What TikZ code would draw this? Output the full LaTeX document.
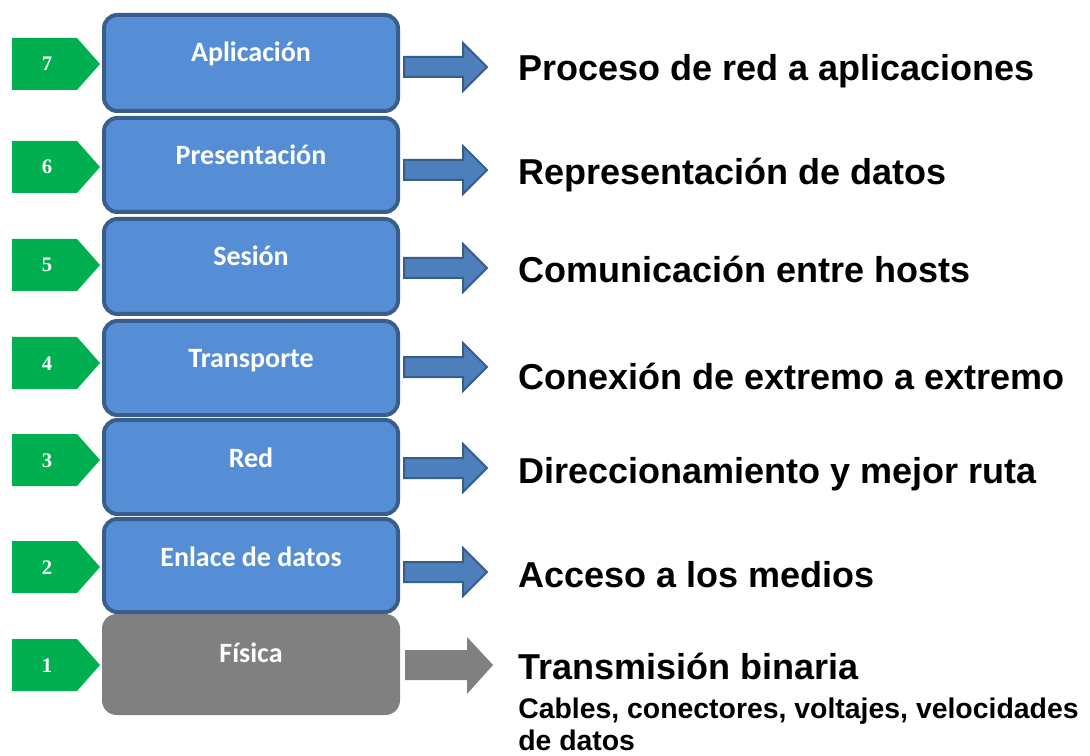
\documentclass[tikz,border=0pt]{standalone}
\usepackage{fontspec}
\setmainfont{Liberation Sans}
\newfontfamily\boxfont{Carlito}
\newfontfamily\numberfont{Liberation Serif}
\definecolor{layerblue}{HTML}{558ED5}
\definecolor{layerborder}{HTML}{3A5E8C}
\definecolor{arrowfill}{HTML}{4C7FBC}
\definecolor{arrowborder}{HTML}{385D8A}
\definecolor{tabgreen}{HTML}{00B050}
\definecolor{physgray}{HTML}{808080}
\begin{document}
\begin{tikzpicture}[x=0.75pt,y=-0.75pt,
  layer/.style={draw=layerborder, line width=3pt, fill=layerblue, rounded corners=10pt},
  physlayer/.style={fill=physgray, rounded corners=11pt},
  boxlabel/.style={text=white, font=\boxfont\bfseries\fontsize{21}{24}\selectfont, inner sep=0pt, anchor=base},
  tab/.style={fill=tabgreen},
  num/.style={text=white, font=\numberfont\bfseries\fontsize{15.5}{17}\selectfont, inner sep=0pt, anchor=base},
  blockarrow/.style={fill=arrowfill, draw=arrowborder, line width=1.5pt, line join=miter},
  grayarrow/.style={fill=physgray},
  desc/.style={text=black, font=\bfseries\fontsize{27}{30}\selectfont, inner sep=0pt, anchor=base west},
  subdesc/.style={text=black, font=\bfseries\fontsize{21.3}{24}\selectfont, inner sep=0pt, anchor=base west}]
\useasboundingbox (0,0) rectangle (1090,756);
\fill[white] (0,0) rectangle (1090,756);
% physical layer
\path[physlayer] (102,614) rectangle (400,715);
\foreach \n/\t/\b/\lab/\py/\ay/\ty/\txt in {
  7/13/113/Aplicación/64/67/68/Proceso de red a aplicaciones,
  6/116/214/Presentación/167/170/172/Representación de datos,
  5/217/316/Sesión/265/268/269/Comunicación entre hosts,
  4/319/417/Transporte/363/367/376/Conexión de extremo a extremo,
  3/418/516/Red/460/468/470/Direccionamiento y mejor ruta,
  2/517/614/Enlace de datos/567/572/574/Acceso a los medios}{
  \path[layer] (104,{\t+2}) rectangle (398,{\b-2});
  \node[boxlabel] (lab\n) at (251,{\t+49}) {\lab};
  \fill[tab] (12,{\py-26}) -- (77,{\py-26}) -- (100,\py) -- (77,{\py+26}) -- (12,{\py+26}) -- cycle;
  \node[num] (num\n) at (47,{\py+7}) {\n};
  \draw[blockarrow] (404,{\ay-10}) -- (463,{\ay-10}) -- (463,{\ay-24}) -- (487,\ay) -- (463,{\ay+24}) -- (463,{\ay+10}) -- (404,{\ay+10}) -- cycle;
  \node[desc] (desc\n) at (518,{\ty+13}) {\txt};
}
% layer 1
\node[boxlabel] (lab1) at (251,662) {Física};
\fill[tab] (12,639) -- (77,639) -- (100,665) -- (77,691) -- (12,691) -- cycle;
\node[num] (num1) at (47,672) {1};
\fill[grayarrow] (405,650) -- (467,650) -- (467,637) -- (493,665) -- (467,694) -- (467,680) -- (405,680) -- cycle;
\node[desc] (desc1) at (518,679) {Transmisión binaria};
\node[subdesc] (sub1) at (518,718) {Cables, conectores, voltajes, velocidades};
\node[subdesc] (sub2) at (518,750) {de datos};
\end{tikzpicture}
\end{document}
